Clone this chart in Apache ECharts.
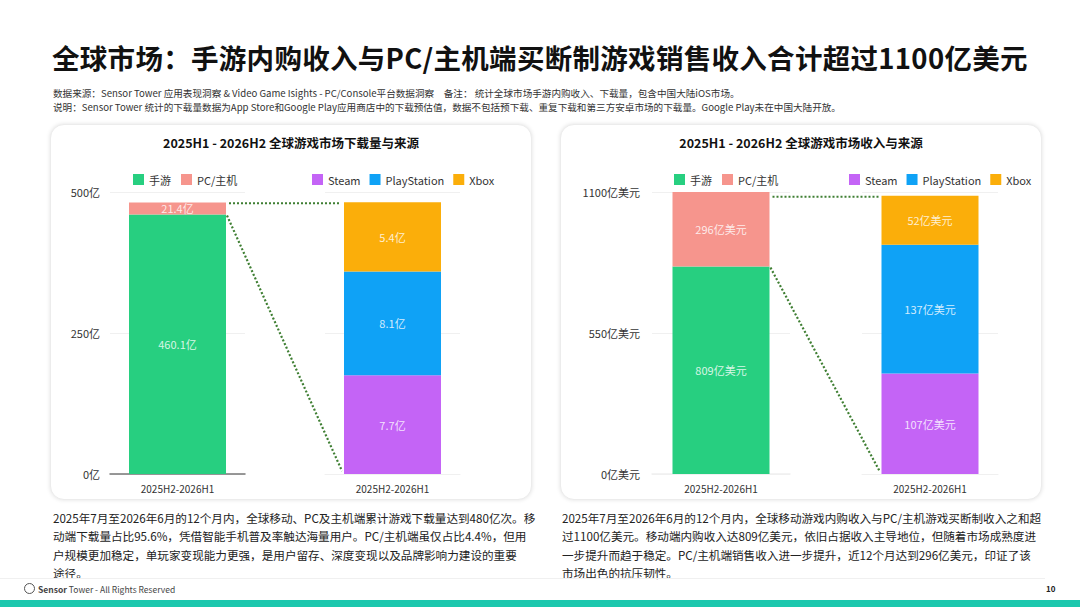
<!DOCTYPE html>
<html>
<head>
<meta charset="utf-8">
<script src="https://cdn.jsdelivr.net/npm/echarts@6/dist/echarts.min.js"></script>
<style>
html,body{margin:0;padding:0;background:#fff;width:1080px;height:607px;overflow:hidden;position:relative;font-family:"Noto Sans CJK SC","Noto Sans",sans-serif;color:#222;}
.abs{position:absolute;white-space:nowrap;}
#title{left:52px;top:37px;font-size:27.5px;font-weight:bold;color:#111;letter-spacing:0.3px;}
.sub{left:53px;font-size:9.6px;color:#333;}
.card{position:absolute;top:124px;width:482px;height:376px;border-radius:14px;background:#fff;box-shadow:0 0 4px rgba(0,0,0,0.12);border:1px solid #ececec;box-sizing:border-box;}
.chart{position:absolute;top:125px;width:482px;height:375px;}
.para{font-size:11.6px;line-height:18.4px;color:#222;top:509px;}
#foot{left:38px;top:583px;font-size:8.5px;color:#444;}
#pg{left:1046px;top:583px;font-size:8px;font-weight:bold;color:#222;}
#band{position:absolute;left:0;top:600px;width:1080px;height:7px;background:#1cc8ae;}
#rule{position:absolute;left:0;top:578px;width:1045px;height:1px;background:#f0f0f0;}
#logo{position:absolute;left:24px;top:583px;width:11px;height:11px;border:1.3px solid #555;border-radius:50%;box-sizing:border-box;}
</style>
</head>
<body>
<div id="title" class="abs">全球市场：手游内购收入与PC/主机端买断制游戏销售收入合计超过1100亿美元</div>
<div class="abs sub" style="top:86px;">数据来源：Sensor Tower 应用表现洞察 &amp; Video Game Isights - PC/Console平台数据洞察　备注：  统计全球市场手游内购收入、下载量，包含中国大陆iOS市场。</div>
<div class="abs sub" style="top:100px;">说明：Sensor Tower 统计的下载量数据为App Store和Google Play应用商店中的下载预估值，数据不包括预下载、重复下载和第三方安卓市场的下载量。Google Play未在中国大陆开放。</div>

<div class="card" style="left:50px;"></div>
<div class="card" style="left:560px;"></div>
<div id="c1" class="chart" style="left:50px;"></div>
<div id="c2" class="chart" style="left:560px;"></div>

<div class="abs para" style="left:53px;">2025年7月至2026年6月的12个月内，全球移动、PC及主机端累计游戏下载量达到480亿次。移<br>动端下载量占比95.6%，凭借智能手机普及率触达海量用户。PC/主机端虽仅占比4.4%，但用<br>户规模更加稳定，单玩家变现能力更强，是用户留存、深度变现以及品牌影响力建设的重要<br>途径。</div>
<div class="abs para" style="left:562px;">2025年7月至2026年6月的12个月内，全球移动游戏内购收入与PC/主机游戏买断制收入之和超<br>过1100亿美元。移动端内购收入达809亿美元，依旧占据收入主导地位，但随着市场成熟度进<br>一步提升而趋于稳定。PC/主机端销售收入进一步提升，近12个月达到296亿美元，印证了该<br>市场出色的抗压韧性。</div>

<div id="rule"></div>
<div id="logo"></div>
<div id="foot" class="abs"><b>Sensor</b> Tower - All Rights Reserved</div>
<div id="pg" class="abs">10</div>
<div id="band"></div>

<script>
// ---- data ----
const categories = ['2025H2-2026H1'];
// downloads (亿)
const dlMobile = [460.1];
const dlPC = [21.4];
const dlSteam = [7.7];
const dlPlayStation = [8.1];
const dlXbox = [5.4];
const dlTicks = [0, 250, 500];
const dlBreakdownMax = 22;
// revenue (亿美元)
const revMobile = [809];
const revPC = [296];
const revSteam = [107];
const revPlayStation = [137];
const revXbox = [52];
const revTicks = [0, 550, 1100];
const revBreakdownMax = 300;

const C = {mobile:'#27CF80', pc:'#F6958D', steam:'#C464F6', ps:'#0FA2F6', xbox:'#FBAE0A'};

function build(el, cfg){
  const chart = echarts.init(document.getElementById(el), null, {renderer:'svg'});
  const lbl = (unit)=>({show:true, position:'inside', color:'rgba(255,255,255,0.82)', fontSize:11,
      fontFamily:'Noto Sans CJK SC', formatter:p=>p.value+unit});
  const legendText = {fontSize:11, color:'#333', fontFamily:'Noto Sans CJK SC'};
  const option = {
    animation:false,
    title:{text:cfg.title, left:'center', top:6, textStyle:{fontSize:12.5, fontWeight:'bold', color:'#111', fontFamily:'Noto Sans CJK SC'}},
    legend:[
      {data:['手游','PC/主机'], left:cfg.leg1, top:44, icon:'rect', itemWidth:11, itemHeight:11, itemGap:10, textStyle:legendText},
      {data:['Steam','PlayStation','Xbox'], left:cfg.leg2, top:44, icon:'rect', itemWidth:11, itemHeight:11, itemGap:9, textStyle:legendText}
    ],
    grid:[
      {left:cfg.g0l, width:cfg.g0w, top:67, height:282},
      {left:cfg.g1l, width:cfg.g1w, top:67, height:282}
    ],
    xAxis:[
      {type:'category', gridIndex:0, data:categories, axisTick:{show:false},
       axisLine:{lineStyle:{color:cfg.axis0Color, width:1.5}},
       axisLabel:{color:'#333', fontSize:10, margin:9, fontFamily:'Noto Sans CJK SC'}},
      {type:'category', gridIndex:1, data:categories, axisTick:{show:false},
       axisLine:{lineStyle:{color:'#f0f0f0'}},
       axisLabel:{color:'#333', fontSize:10, margin:9, fontFamily:'Noto Sans CJK SC'}}
    ],
    yAxis:[
      {type:'value', gridIndex:0, min:cfg.ticks[0], max:cfg.ticks[2], interval:cfg.ticks[1],
       axisLabel:{color:'#333', fontSize:11, margin:cfg.ylm, fontFamily:'Noto Sans CJK SC', formatter:v=>v+cfg.unit},
       splitLine:{lineStyle:{color:'#f0f0f0'}}},
      {type:'value', gridIndex:1, min:0, max:cfg.bmax, interval:cfg.bmax/2,
       axisLabel:{show:false}, splitLine:{lineStyle:{color:'#f0f0f0'}}}
    ],
    series:[
      {name:'手游', type:'bar', xAxisIndex:0, yAxisIndex:0, stack:'a', barWidth:97, data:cfg.mobile, itemStyle:{color:C.mobile}, label:lbl(cfg.unit)},
      {name:'PC/主机', type:'bar', xAxisIndex:0, yAxisIndex:0, stack:'a', barWidth:97, data:cfg.pc, itemStyle:{color:C.pc}, label:lbl(cfg.unit)},
      {name:'Steam', type:'bar', xAxisIndex:1, yAxisIndex:1, stack:'b', barWidth:97, data:cfg.steam, itemStyle:{color:C.steam}, label:lbl(cfg.unit)},
      {name:'PlayStation', type:'bar', xAxisIndex:1, yAxisIndex:1, stack:'b', barWidth:97, data:cfg.ps, itemStyle:{color:C.ps}, label:lbl(cfg.unit)},
      {name:'Xbox', type:'bar', xAxisIndex:1, yAxisIndex:1, stack:'b', barWidth:97, data:cfg.xbox, itemStyle:{color:C.xbox}, label:lbl(cfg.unit)}
    ]
  };
  chart.setOption(option);
  // connector lines through library scales
  const half = 97/2;
  const lTop = chart.convertToPixel({xAxisIndex:0, yAxisIndex:0}, [0, cfg.mobile[0]+cfg.pc[0]]);
  const lMid = chart.convertToPixel({xAxisIndex:0, yAxisIndex:0}, [0, cfg.mobile[0]]);
  const rTot = cfg.steam[0]+cfg.ps[0]+cfg.xbox[0];
  const rTop = chart.convertToPixel({xAxisIndex:1, yAxisIndex:1}, [0, rTot]);
  const rBot = chart.convertToPixel({xAxisIndex:1, yAxisIndex:1}, [0, 0]);
  const ls = {stroke:'#3f7f33', lineWidth:2.2, lineDash:[2,2]};
  chart.setOption({graphic:[
    {type:'line', shape:{x1:lTop[0]+half+3, y1:rTop[1]+1, x2:rTop[0]-half-3, y2:rTop[1]+1}, style:ls, silent:true},
    {type:'line', shape:{x1:lMid[0]+half+1, y1:lMid[1]+1, x2:rBot[0]-half-2, y2:rBot[1]-3}, style:ls, silent:true}
  ]});
}

build('c1', {title:'2025H1 - 2026H2 全球游戏市场下载量与来源', unit:'亿', ticks:dlTicks, bmax:dlBreakdownMax,
  mobile:dlMobile, pc:dlPC, steam:dlSteam, ps:dlPlayStation, xbox:dlXbox,
  leg1:78, leg2:257, g0l:60, g0w:135, g1l:275, g1w:135, ylm:10, axis0Color:'#777'});
build('c2', {title:'2025H1 - 2026H2 全球游戏市场收入与来源', unit:'亿美元', ticks:revTicks, bmax:revBreakdownMax,
  mobile:revMobile, pc:revPC, steam:revSteam, ps:revPlayStation, xbox:revXbox,
  leg1:109, leg2:284, g0l:92, g0w:138, g1l:302, g1w:136, ylm:12, axis0Color:'#f0f0f0'});
</script>
</body>
</html>
